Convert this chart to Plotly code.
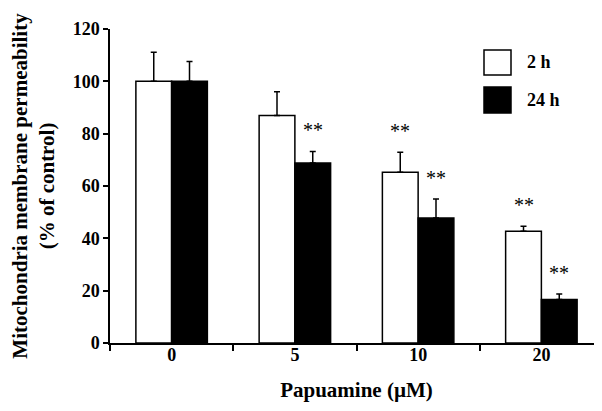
import plotly.graph_objects as go

categories = ["0", "5", "10", "20"]
series_names = ["2 h", "24 h"]
values_2h = [100, 86.9, 65.3, 42.7]
errors_2h = [11.1, 9.1, 7.6, 1.9]
values_24h = [100, 68.8, 47.8, 16.6]
errors_24h = [7.6, 4.4, 7.2, 2.1]
signif_2h = ["", "", "**", "**"]
signif_24h = ["", "**", "**", "**"]
y_ticks = [0, 20, 40, 60, 80, 100, 120]

FONT = "Liberation Serif"
xs = list(range(len(categories)))

fig = go.Figure()
fig.add_trace(go.Bar(
    x=xs, y=values_2h, name=series_names[0],
    marker=dict(color="white", line=dict(color="black", width=1.5)),
    error_y=dict(type="data", array=errors_2h, arrayminus=[0]*4, symmetric=False,
                 color="black", thickness=1.5, width=3),
    showlegend=False,
))
fig.add_trace(go.Bar(
    x=xs, y=values_24h, name=series_names[1],
    marker=dict(color="black", line=dict(color="black", width=1.5)),
    error_y=dict(type="data", array=errors_24h, arrayminus=[0]*4, symmetric=False,
                 color="black", thickness=1.5, width=3),
    showlegend=False,
))

half = (1 - 0.42) / 4
annotations = []
for i in xs:
    for sig, v, e, off in ((signif_2h[i], values_2h[i], errors_2h[i], -half),
                           (signif_24h[i], values_24h[i], errors_24h[i], half)):
        if sig:
            annotations.append(dict(
                x=i + off, y=v + e, xref="x", yref="y", text=sig, showarrow=False,
                yanchor="bottom", xanchor="center", yshift=8,
                font=dict(family=FONT, size=20, color="black"),
            ))

# legend (manual, large boxes)
def px2x(p):
    return (p - 102) / 493
def px2y(p):
    return (335 - p) / 314

shapes = [
    dict(type="rect", xref="paper", yref="paper", x0=px2x(476), x1=px2x(503),
         y0=px2y(67), y1=px2y(42), fillcolor="white", line=dict(color="black", width=1.5)),
    dict(type="rect", xref="paper", yref="paper", x0=px2x(476), x1=px2x(503),
         y0=px2y(105), y1=px2y(79), fillcolor="black", line=dict(color="black", width=1.5)),
]
annotations.append(dict(x=px2x(517), y=px2y(54), xref="paper", yref="paper",
                        text="<b>%s</b>" % series_names[0], showarrow=False,
                        xanchor="left", yanchor="middle",
                        font=dict(family=FONT, size=18, color="black")))
annotations.append(dict(x=px2x(517), y=px2y(92), xref="paper", yref="paper",
                        text="<b>%s</b>" % series_names[1], showarrow=False,
                        xanchor="left", yanchor="middle",
                        font=dict(family=FONT, size=18, color="black")))

fig.update_layout(
    width=602, height=411,
    margin=dict(l=102, r=7, t=21, b=76),
    paper_bgcolor="white", plot_bgcolor="white",
    barmode="group", bargap=0.42, bargroupgap=0,
    font=dict(family=FONT, size=18, color="black"),
    shapes=shapes,
    annotations=annotations,
    xaxis=dict(
        range=[-0.5, 3.5], tickvals=xs,
        ticktext=["<b>%s</b>" % c for c in categories],
        ticks="", showline=True, linecolor="black", linewidth=1.5,
        showgrid=False, zeroline=False, ticklabelstandoff=-5,
        minor=dict(tickvals=[-0.5, 0.5, 1.5, 2.5, 3.5], ticks="outside",
                   ticklen=6, tickwidth=1.5, tickcolor="black", showgrid=False),
        tickfont=dict(family=FONT, size=18),
        title=dict(text="<b>Papuamine (µM)</b>", font=dict(family=FONT, size=21), standoff=18),
    ),
    yaxis=dict(
        range=[0, 120], tickvals=y_ticks,
        ticktext=["<b>%d</b>" % t for t in y_ticks],
        ticks="outside", ticklen=5, tickwidth=1.5, tickcolor="black",
        showline=True, linecolor="black", linewidth=1.5,
        showgrid=False, zeroline=False,
        tickfont=dict(family=FONT, size=18),
        title=dict(text="<b>Mitochondria membrane permeability<br>(% of control)</b>",
                   font=dict(family=FONT, size=21), standoff=14),
    ),
)

fig.write_html("out.html")
